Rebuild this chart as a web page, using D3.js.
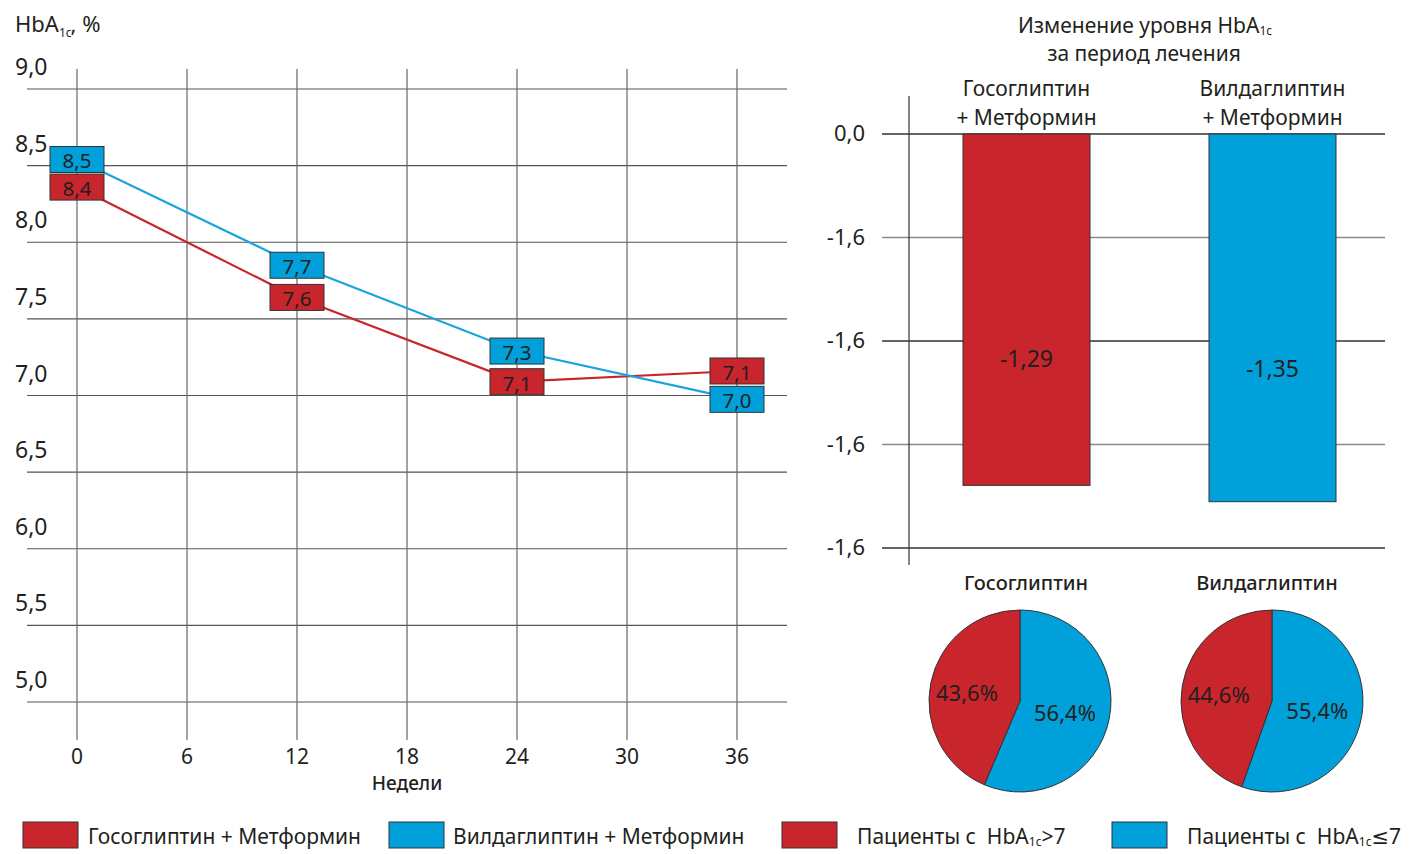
<!DOCTYPE html>
<html>
<head>
<meta charset="utf-8">
<script src="https://cdn.jsdelivr.net/npm/d3@7"></script>
<style>
  html, body { margin: 0; padding: 0; background: #fff; }
  svg { display: block; }
  text { font-family: "Noto Sans", "DejaVu Sans", sans-serif; fill: #231f20; }
</style>
</head>
<body>
<svg id="chart" width="1409" height="854"></svg>
<script>
// ---------------- DATA ----------------
const weeks = [0, 12, 24, 36];
const weekTicks = [0, 6, 12, 18, 24, 30, 36];
const hbaTicks = [5.0, 5.5, 6.0, 6.5, 7.0, 7.5, 8.0, 8.5, 9.0];

// values printed in the boxes
const gosoValues = [8.4, 7.6, 7.1, 7.1];
const vildaValues = [8.5, 7.7, 7.3, 7.0];
// level at which each box / line vertex is drawn
const gosoLevels = [8.36, 7.64, 7.09, 7.16];
const vildaLevels = [8.54, 7.85, 7.29, 6.975];

const barCategories = ["Госоглиптин", "Вилдаглиптин"];
const barChange = [-1.29, -1.35];
const barTickValues = [0, -0.38, -0.76, -1.14, -1.52];
const barTickLabels = ["0,0", "-1,6", "-1,6", "-1,6", "-1,6"];

const pieGroups = ["Госоглиптин", "Вилдаглиптин"];
const pieAbove7 = [43.6, 44.6];
const pieBelow7 = [56.4, 55.4];

const legendLabels = ["Госоглиптин + Метформин", "Вилдаглиптин + Метформин", "Пациенты с  HbA|1c|>7", "Пациенты с  HbA|1c|≤7"];

const RED = "#c9252c", BLUE = "#00a0da", BLUE_LINE = "#1ba3de", GRID = "#555";
const fmt = v => d3.format(".1f")(v).replace(".", ",").replace("−", "-");
const fmt2 = v => d3.format(".2f")(v).replace(".", ",").replace("−", "-");

const svg = d3.select("#chart");

// helper: text with subscript parts marked by |...|
function richText(sel, str, subSize) {
  const parts = str.split("|");
  parts.forEach((p, i) => {
    if (!p) return;
    const t = sel.append("tspan").text(p);
    if (i % 2 === 1) t.attr("font-size", subSize).attr("baseline-shift", "-45%");
  });
}

// ---------------- LINE CHART ----------------
const x = d3.scaleLinear().domain([0, 36]).range([77, 737]);
const y = d3.scaleLinear().domain([5, 9]).range([702, 89]);

const lg = svg.append("g");
lg.selectAll("line.h").data(hbaTicks).join("line")
  .attr("x1", 27).attr("x2", 787)
  .attr("y1", d => y(d)).attr("y2", d => y(d))
  .attr("stroke", GRID).attr("stroke-width", 1.2);
lg.selectAll("line.v").data(weekTicks).join("line")
  .attr("x1", d => x(d)).attr("x2", d => x(d))
  .attr("y1", 69).attr("y2", 740)
  .attr("stroke", "#666").attr("stroke-width", 1.2);
lg.selectAll("text.yt").data(hbaTicks).join("text")
  .attr("x", 15).attr("y", d => y(d) - 23)
  .attr("dominant-baseline", "central")
  .attr("font-size", 23)
  .text(d => fmt(d));
lg.selectAll("text.xt").data(weekTicks).join("text")
  .attr("x", d => x(d)).attr("y", 756)
  .attr("text-anchor", "middle").attr("dominant-baseline", "central")
  .attr("font-size", 21)
  .text(d => d);
lg.append("text").attr("x", 407).attr("y", 783)
  .attr("text-anchor", "middle").attr("dominant-baseline", "central")
  .attr("font-size", 19).attr("font-weight", 500).text("Недели");
const at = lg.append("text").attr("x", 15).attr("y", 32).attr("font-size", 22);
at.append("tspan").text("HbA");
at.append("tspan").text("1c").attr("font-size", 12).attr("baseline-shift", "-40%");
at.append("tspan").text(", %").attr("dx", -1);

const line = d3.line().x(d => x(d[0])).y(d => y(d[1]));
lg.append("path").datum(weeks.map((w, i) => [w, gosoLevels[i]]))
  .attr("d", line).attr("fill", "none").attr("stroke", RED).attr("stroke-width", 2.2);
lg.append("path").datum(weeks.map((w, i) => [w, vildaLevels[i]]))
  .attr("d", line).attr("fill", "none").attr("stroke", BLUE_LINE).attr("stroke-width", 2.2);

function boxes(levels, values, color) {
  const g = lg.append("g");
  const items = weeks.map((w, i) => ({ w, lvl: levels[i], v: values[i] }));
  const bx = g.selectAll("g").data(items).join("g")
    .attr("transform", d => `translate(${x(d.w)},${y(d.lvl)})`);
  bx.append("rect").attr("x", -27).attr("y", -13).attr("width", 54).attr("height", 26)
    .attr("fill", color).attr("stroke", "#333").attr("stroke-width", 1);
  bx.append("text").attr("text-anchor", "middle").attr("dominant-baseline", "central")
    .attr("y", 1).attr("font-size", 20.5).text(d => fmt(d.v));
}
boxes(vildaLevels, vildaValues, BLUE);
boxes(gosoLevels, gosoValues, RED);

// ---------------- BAR CHART ----------------
const bx = d3.scaleBand().domain(barCategories).range([963, 1336]).paddingInner(0.4837).paddingOuter(0);
const by = d3.scaleLinear().domain([-1.52, 0]).range([548, 134]);
const bg = svg.append("g");

bg.selectAll("line.bh").data(barTickValues).join("line")
  .attr("x1", 882).attr("x2", 1385)
  .attr("y1", d => by(d)).attr("y2", d => by(d))
  .attr("stroke", (d, i) => i % 2 ? "#8a8a8a" : "#333").attr("stroke-width", 1.3);
bg.append("line").attr("x1", 909).attr("x2", 909).attr("y1", 96).attr("y2", 565)
  .attr("stroke", "#333").attr("stroke-width", 1.2);
bg.selectAll("text.bt").data(barTickValues).join("text")
  .attr("x", 865).attr("y", d => by(d) - 2)
  .attr("text-anchor", "end").attr("dominant-baseline", "central")
  .attr("font-size", 22)
  .text((d, i) => barTickLabels[i]);

bg.selectAll("rect.bar").data(barCategories).join("rect")
  .attr("x", d => bx(d)).attr("width", bx.bandwidth())
  .attr("y", by(0)).attr("height", (d, i) => by(barChange[i]) - by(0))
  .attr("fill", (d, i) => i === 0 ? RED : BLUE)
  .attr("stroke", "#333").attr("stroke-width", 1);
bg.selectAll("text.bv").data(barCategories).join("text")
  .attr("x", d => bx(d) + bx.bandwidth() / 2)
  .attr("y", (d, i) => by(0) + 0.637 * (by(barChange[i]) - by(0)))
  .attr("text-anchor", "middle").attr("dominant-baseline", "central")
  .attr("font-size", 23)
  .text((d, i) => fmt2(barChange[i]));
bg.selectAll("text.bc1").data(barCategories).join("text")
  .attr("x", d => bx(d) + bx.bandwidth() / 2).attr("y", 88)
  .attr("text-anchor", "middle").attr("dominant-baseline", "central")
  .attr("font-size", 21).text(d => d);
bg.selectAll("text.bc2").data(barCategories).join("text")
  .attr("x", d => bx(d) + bx.bandwidth() / 2).attr("y", 117)
  .attr("text-anchor", "middle").attr("dominant-baseline", "central")
  .attr("font-size", 21).text("+ Метформин");
const tt = bg.append("text").attr("x", 1145).attr("y", 25)
  .attr("text-anchor", "middle").attr("dominant-baseline", "central").attr("font-size", 21);
richText(tt, "Изменение уровня HbA|1c|", 12);
bg.append("text").attr("x", 1144).attr("y", 53)
  .attr("text-anchor", "middle").attr("dominant-baseline", "central").attr("font-size", 21)
  .text("за период лечения");

// ---------------- PIES ----------------
const pieCx = d3.scalePoint().domain(pieGroups).range([1020, 1272]);
const pie = d3.pie().sort(null).value(d => d.v).startAngle(0).endAngle(2 * Math.PI);
const arc = d3.arc().innerRadius(0).outerRadius(91);
const labelArc = d3.arc().innerRadius(50).outerRadius(50);
const pg = svg.append("g");
pieGroups.forEach((name, i) => {
  const g = pg.append("g").attr("transform", `translate(${pieCx(name)},701)`);
  const data = [{ v: pieBelow7[i], c: BLUE }, { v: pieAbove7[i], c: RED }];
  const arcs = pie(data);
  g.selectAll("path").data(arcs).join("path")
    .attr("d", arc).attr("fill", d => d.data.c)
    .attr("stroke", "#333").attr("stroke-width", 1);
  g.selectAll("text").data(arcs).join("text")
    .attr("transform", d => { const c = labelArc.centroid(d); return `translate(${c[0] - 4},${c[1] + 1})`; })
    .attr("text-anchor", "middle").attr("dominant-baseline", "central")
    .attr("font-size", 22)
    .text(d => fmt(d.data.v) + "%");
  pg.append("text").attr("x", pieCx(name) + (i === 0 ? 6 : -5)).attr("y", 582)
    .attr("text-anchor", "middle").attr("dominant-baseline", "central")
    .attr("font-size", 20).attr("font-weight", 500).text(name);
});

// ---------------- LEGEND ----------------
const legX = [23, 389, 782, 1112];
const legTextX = [88, 453, 857, 1187];
const legColors = [RED, BLUE, RED, BLUE];
const leg = svg.append("g");
legendLabels.forEach((lab, i) => {
  leg.append("rect").attr("x", legX[i]).attr("y", 822).attr("width", 55).attr("height", 26)
    .attr("fill", legColors[i]).attr("stroke", "#333").attr("stroke-width", 1);
  const t = leg.append("text").attr("x", legTextX[i]).attr("y", 836)
    .attr("dominant-baseline", "central").attr("font-size", 21)
    .style("white-space", "pre");
  richText(t, lab, 12);
});
</script>
</body>
</html>
